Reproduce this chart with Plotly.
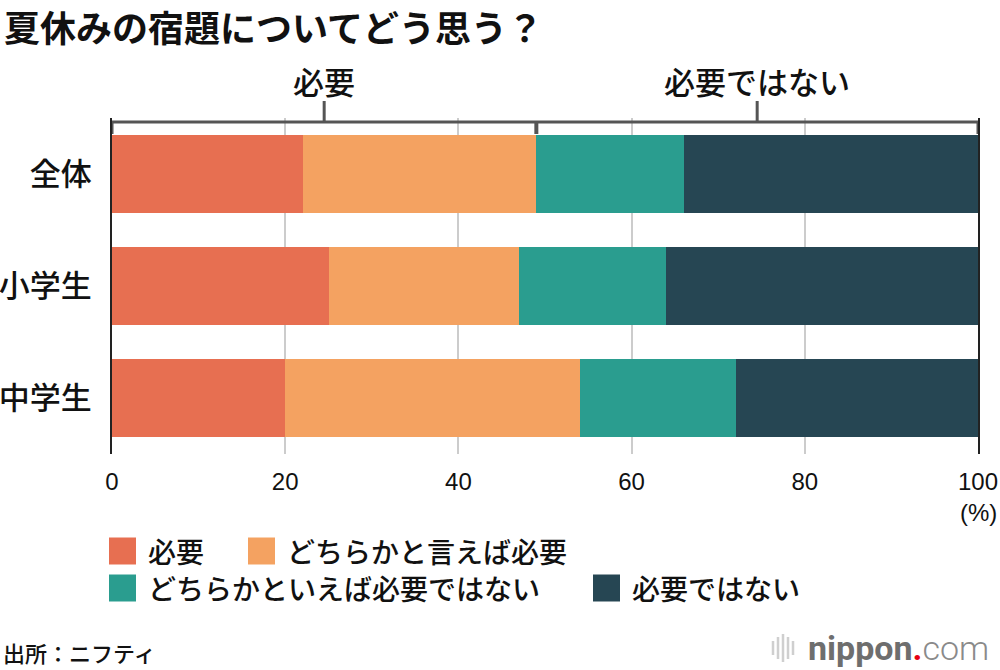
import plotly.graph_objects as go

# ---- data ----
categories = ["全体", "小学生", "中学生"]
series_names = ["必要", "どちらかと言えば必要", "どちらかといえば必要ではない", "必要ではない"]
legend_names = ["必要", "どちらかと言えば必要", "どちらかといえば必要ではない", "必要ではない"]
v_hitsuyou = [22, 25, 20]
v_dochira_hitsuyou = [27, 22, 34]
v_dochira_fuyou = [17, 17, 18]
v_fuyou = [34, 36, 28]
colors = ["#E76F51", "#F4A261", "#2A9D8F", "#264653"]
x_ticks = [0, 20, 40, 60, 80, 100]
group_labels = ["必要", "必要ではない"]

title_text = "夏休みの宿題についてどう思う？"
source_text = "出所：ニフティ"

FONT = "Noto Sans CJK JP"
NUMFONT = "Liberation Sans"
W, H = 1000, 670
L, R, T, B = 112, 22, 118, 216
PW, PH = W - L - R, H - T - B


def px(xp):
    return (xp - L) / PW


def py(yp):
    return (H - B - yp) / PH


values = [v_hitsuyou, v_dochira_hitsuyou, v_dochira_fuyou, v_fuyou]
fig = go.Figure()
for name, vals, col in zip(series_names, values, colors):
    fig.add_trace(go.Bar(
        y=categories, x=vals, name=name, orientation="h",
        marker=dict(color=col, line=dict(width=0)),
        showlegend=False, hoverinfo="skip",
    ))

fig.update_layout(
    barmode="stack",
    bargap=0.3,
    width=W, height=H,
    margin=dict(l=L, r=R, t=T, b=B, pad=0, autoexpand=False),
    paper_bgcolor="white", plot_bgcolor="white",
    font=dict(family=FONT, color="#111"),
    xaxis=dict(
        range=[0, 100], tickvals=x_ticks, showgrid=True, gridcolor="#cccccc", gridwidth=1.5,
        zeroline=False, automargin=False, showline=False,
        tickfont=dict(size=24, color="#111", family=NUMFONT), ticks="", ticklabelstandoff=11,
        fixedrange=True,
    ),
    yaxis=dict(
        categoryorder="array", categoryarray=categories, autorange="reversed",
        tickfont=dict(size=31, color="#111", weight=500), ticks="", ticklabelstandoff=12,
        showgrid=False, zeroline=False, fixedrange=True, automargin=False,
        showline=True, mirror=True, linecolor="#222", linewidth=2,
    ),
)

# title
fig.add_annotation(text=title_text, xref="paper", yref="paper",
                   x=px(2), y=py(26), xanchor="left", yanchor="middle",
                   showarrow=False, font=dict(size=36, family=FONT, color="#111", weight=700))

# (%) unit
fig.add_annotation(text="(%)", xref="paper", yref="paper", x=px(978), y=py(512),
                   xanchor="center", yanchor="middle", showarrow=False,
                   font=dict(size=24, family=NUMFONT, color="#111"))

# bracket above bars, split at total "必要" of 全体
split = v_hitsuyou[0] + v_dochira_hitsuyou[0]
lo, hi = x_ticks[0], x_ticks[-1]
line_y = py(122)
bracket = dict(color="#555555", width=3)
fig.add_shape(type="line", xref="x", yref="paper", x0=lo, x1=hi, y0=line_y, y1=line_y, line=bracket)
for xv in (lo, split, hi):
    fig.add_shape(type="line", xref="x", yref="paper", x0=xv, x1=xv, y0=line_y, y1=py(134),
                  line=dict(color="#555555", width=4 if xv == split else 3))
for (a, b), lab in zip(((lo, split), (split, hi)), group_labels):
    c = (a + b) / 2
    fig.add_shape(type="line", xref="x", yref="paper", x0=c, x1=c, y0=line_y, y1=py(101), line=bracket)
    fig.add_annotation(text=lab, xref="x", yref="paper", x=c, y=py(81), xanchor="center",
                       yanchor="middle", showarrow=False,
                       font=dict(size=31, family=FONT, color="#111", weight=500))

# custom legend (square + label)
legend_pos = [(109, 551), (248, 551), (109, 588), (593, 588)]
SQ = 27
for (lx, ly), lab, col in zip(legend_pos, legend_names, colors):
    fig.add_shape(type="rect", xref="paper", yref="paper", x0=px(lx), x1=px(lx + SQ),
                  y0=py(ly - SQ / 2), y1=py(ly + SQ / 2), fillcolor=col, line=dict(width=0))
    fig.add_annotation(text=lab, xref="paper", yref="paper", x=px(lx + SQ + 10), y=py(ly),
                       xanchor="left", yanchor="middle", showarrow=False,
                       font=dict(size=28, family=FONT, color="#111", weight=500))

# source
fig.add_annotation(text=source_text, xref="paper", yref="paper", x=px(1), y=py(652),
                   xanchor="left", yanchor="middle", showarrow=False,
                   font=dict(size=22, family=FONT, color="#111", weight=500))

# logo: sound-wave icon + wordmark
for xi, h in zip([773, 778, 783, 788, 793], [14, 22, 28, 22, 14]):
    fig.add_shape(type="line", xref="paper", yref="paper", x0=px(xi), x1=px(xi),
                  y0=py(648 - h / 2), y1=py(648 + h / 2), line=dict(color="#cfcfcf", width=2.5))
fig.add_annotation(
    text='<span style="color:#6e6e6e;font-weight:700">nippon</span>'
         '<span style="color:#e60012;font-weight:700">.</span>'
         '<span style="color:#8a8a8a;font-weight:300">com</span>',
    xref="paper", yref="paper", x=px(806), y=py(648), xanchor="left", yanchor="middle",
    showarrow=False, font=dict(size=34, family="Roboto", color="#777"))

fig.write_html("out.html", config={"displayModeBar": False},
               post_script="document.body.style.margin='0';document.body.style.overflow='hidden';")
